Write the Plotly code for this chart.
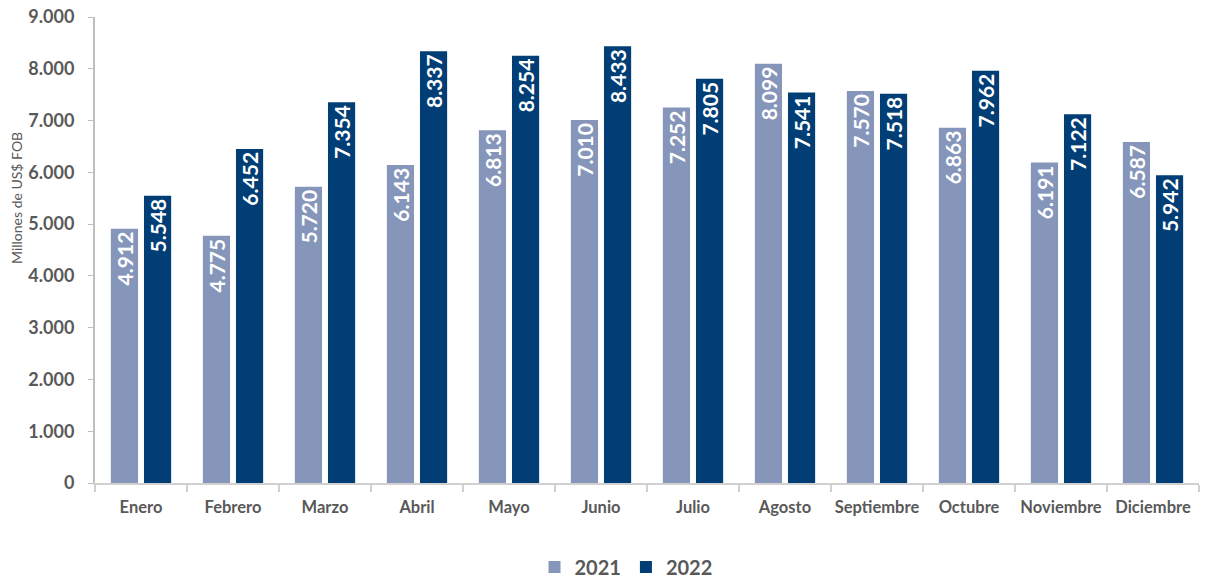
import plotly.graph_objects as go

months = ["Enero", "Febrero", "Marzo", "Abril", "Mayo", "Junio", "Julio",
          "Agosto", "Septiembre", "Octubre", "Noviembre", "Diciembre"]
v2021 = [4912, 4775, 5720, 6143, 6813, 7010, 7252, 8099, 7570, 6863, 6191, 6587]
v2022 = [5548, 6452, 7354, 8337, 8254, 8433, 7805, 7541, 7518, 7962, 7122, 5942]
yticks = [0, 1000, 2000, 3000, 4000, 5000, 6000, 7000, 8000, 9000]

FONT = "Lato"
GRAY = "#595959"

# plot area target: x 95..1199, y 17..483 (page body margin removed via post_script)
L, T, PW, PH = 95, 17, 1104, 466
W, H = 1205, 578

fig = go.Figure()
for name, vals, col in [("2021", v2021, "#8696BB"), ("2022", v2022, "#003E75")]:
    fig.add_trace(go.Bar(
        x=months, y=vals, name=name, marker_color=col, marker_line_width=0,
        texttemplate="%{y:,.0f}", textposition="inside", insidetextanchor="end",
        textangle=-90, textfont=dict(family=FONT, size=21, color="white", weight="bold"),
        cliponaxis=False,
    ))

fig.update_layout(
    width=W, height=H,
    margin=dict(l=L, r=W - L - PW, t=T, b=H - T - PH, autoexpand=False),
    paper_bgcolor="white", plot_bgcolor="white",
    separators=",.",
    barmode="group", bargap=0.28, bargroupgap=0.18,
    uniformtext=dict(minsize=21, mode="show"),
    font=dict(family=FONT, color=GRAY),
    legend=dict(orientation="h", x=(626 - 95) / PW, xanchor="center",
                y=-(567 - 483) / PH, yanchor="middle",
                font=dict(family=FONT, size=20, color=GRAY, weight="bold"),
                itemwidth=30, traceorder="normal"),
    showlegend=True,
    annotations=[dict(text="Millones de US$ FOB", x=(17 - 95) / PW, y=(483 - 198) / PH,
                      xref="paper", yref="paper", xanchor="center", yanchor="middle",
                      showarrow=False, textangle=-90,
                      font=dict(family=FONT, size=14, color=GRAY))],
)

fig.update_xaxes(
    automargin=False, tickangle=0,
    showline=True, linecolor="#D0D0D0", linewidth=2,
    ticks="outside", tickson="boundaries", ticklen=7, tickcolor="#D0D0D0", tickwidth=2,
    tickfont=dict(family=FONT, size=16.5, color=GRAY, weight="bold"),
    ticklabelstandoff=8,
    showgrid=False,
)
fig.update_yaxes(
    automargin=False,
    range=[0, 9000], tickvals=yticks, tickformat=",.0f",
    showline=True, linecolor="#BFBFBF", linewidth=2,
    ticks="outside", ticklen=5, tickcolor="#BFBFBF", tickwidth=1,
    tickfont=dict(family=FONT, size=18, color=GRAY, weight="bold"),
    ticklabelstandoff=10,
    showgrid=False, zeroline=False,
)
fig.write_html("out.html", config={"displayModeBar": False},
               post_script="document.body.style.margin='0';")
